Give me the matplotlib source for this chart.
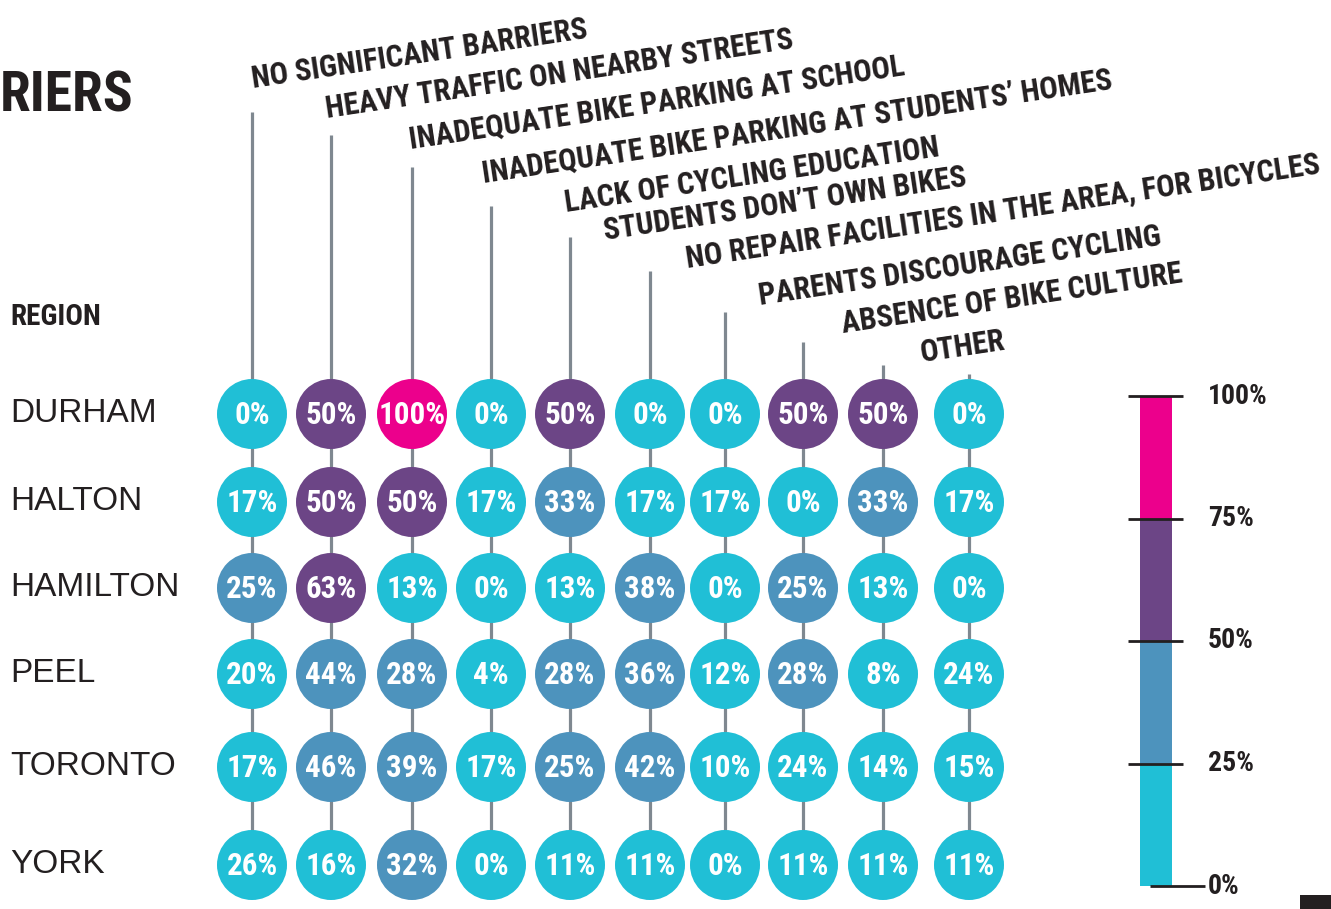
import numpy as np
import matplotlib
matplotlib.use('Agg')
import matplotlib.pyplot as plt
from matplotlib import font_manager
from matplotlib.patches import Circle, Rectangle

# data
regions = ['DURHAM', 'HALTON', 'HAMILTON', 'PEEL', 'TORONTO', 'YORK']
barriers = ['NO SIGNIFICANT BARRIERS',
            'HEAVY TRAFFIC ON NEARBY STREETS',
            'INADEQUATE BIKE PARKING AT SCHOOL',
            'INADEQUATE BIKE PARKING AT STUDENTS\u2019 HOMES',
            'LACK OF CYCLING EDUCATION',
            'STUDENTS DON\u2019T OWN BIKES',
            'NO REPAIR FACILITIES IN THE AREA, FOR BICYCLES',
            'PARENTS DISCOURAGE CYCLING',
            'ABSENCE OF BIKE CULTURE',
            'OTHER']
durham = [0, 50, 100, 0, 50, 0, 0, 50, 50, 0]
halton = [17, 50, 50, 17, 33, 17, 17, 0, 33, 17]
hamilton = [25, 63, 13, 0, 13, 38, 0, 25, 13, 0]
peel = [20, 44, 28, 4, 28, 36, 12, 28, 8, 24]
toronto = [17, 46, 39, 17, 25, 42, 10, 24, 14, 15]
york = [26, 16, 32, 0, 11, 11, 0, 11, 11, 11]
scale_ticks = [0, 25, 50, 75, 100]
# the source shades York / no significant barriers (26%) in the lowest band
tier_override = {(5, 0): 0}

values = np.array([durham, halton, hamilton, peel, toronto, york])

# layout (pixels)
tier_colors = ['#20bfd6', '#4d93bd', '#6c4586', '#ec008c']
ink = '#231f20'
line_grey = '#7f8890'
col_x = [252, 331, 412, 491, 570, 650, 725, 803, 883, 969]
row_y = [414, 502, 588, 674, 767, 865]
line_top = [112, 135, 167, 206, 237, 271, 312, 342, 365, 374]
label_xy = [(253, 88), (327, 118), (410, 148), (483, 182), (566, 212),
            (605, 240), (687, 268), (760, 305), (843, 333), (922, 362)]
radius = 35
cb_x0, cb_x1, cb_top, cb_bot = 1140, 1172, 396, 886


def pick_font(candidates):
    for fam in candidates:
        try:
            font_manager.findfont(font_manager.FontProperties(family=fam),
                                  fallback_to_default=False)
            return fam
        except ValueError:
            continue
    return 'DejaVu Sans'


cond = pick_font(['Roboto Condensed', 'Liberation Sans Narrow', 'Open Sans Condensed',
                  'Roboto', 'Lato'])
plt.rcParams['font.family'] = [cond, 'DejaVu Sans']
plain = ['Liberation Sans', 'DejaVu Sans']

fig = plt.figure(figsize=(13.31, 9.09), dpi=100)
ax = fig.add_axes([0, 0, 1, 1])
ax.set_xlim(0, 1331)
ax.set_ylim(909, 0)
ax.axis('off')
renderer = fig.canvas.get_renderer()


def fit_size(s, width_px, max_size):
    # largest size (up to max_size) that keeps the bold text within width_px
    t = ax.text(0, 0, s, fontsize=max_size, fontweight='bold')
    w = t.get_window_extent(renderer).width
    t.remove()
    return min(max_size, max_size * width_px / w)


def tier(v):
    return min(int(v // 25), 3)


head_size = fit_size(barriers[0], 343, 22)
cell_size = min(fit_size('50%', 52, 26), fit_size('100%', 67, 26))
scale_size = fit_size('100%', 60, 22)

# title, cut at the left edge in the source
ax.text(0, 111, 'RIERS', ha='left', va='baseline',
        fontsize=fit_size('RIERS', 134, 52), fontweight='bold', color=ink)
ax.text(10, 325, 'REGION', ha='left', va='baseline',
        fontsize=fit_size('REGION', 96, 21), fontweight='bold', color=ink)

# column connector lines
ax.vlines(col_x, line_top, row_y[-1], colors=line_grey, lw=2.3, zorder=1)

# column headers
for (lx, ly), lab in zip(label_xy, barriers):
    ax.text(lx, ly, lab, rotation=8.5, rotation_mode='anchor', ha='left',
            va='baseline', fontsize=head_size, fontweight='bold', color=ink)

# rows
for i, reg in enumerate(regions):
    ax.text(10, row_y[i] + 8, reg, ha='left', va='baseline', fontsize=24,
            family=plain, color=ink)
    for j, v in enumerate(values[i]):
        t = tier_override.get((i, j), tier(v))
        ax.add_patch(Circle((col_x[j], row_y[i]), radius, color=tier_colors[t],
                            lw=0, zorder=2))
        ax.text(col_x[j], row_y[i] + 1, '%d%%' % v, ha='center', va='center',
                fontsize=cell_size, fontweight='bold', color='white', zorder=3)


# colour scale
def cb_y(v):
    return cb_bot - (cb_bot - cb_top) * v / 100.


for k in range(4):
    y0, y1 = cb_y(scale_ticks[k]), cb_y(scale_ticks[k + 1])
    ax.add_patch(Rectangle((cb_x0, y1), cb_x1 - cb_x0, y0 - y1,
                           color=tier_colors[k], lw=0))
for v in scale_ticks:
    if v == 0:
        ax.hlines(cb_y(v), 1150, 1205, colors=ink, lw=2)
    else:
        ax.hlines(cb_y(v), 1128, 1183, colors=ink, lw=2)
    ax.text(1208, cb_y(v), '%d%%' % v, ha='left', va='center', fontsize=scale_size,
            fontweight='bold', color=ink)

# small dark tab at the bottom right corner
ax.add_patch(Rectangle((1300, 895), 40, 20, color=ink, lw=0))

fig.savefig('out.png', dpi=100)
